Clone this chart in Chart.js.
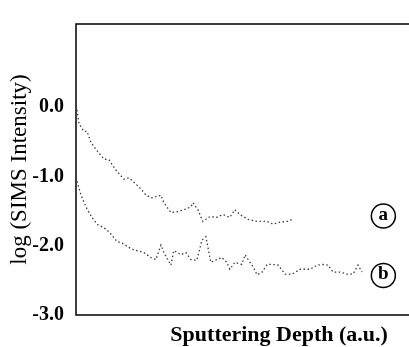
<!DOCTYPE html>
<html lang="en">
<head>
  <meta charset="UTF-8">
  <title>SIMS depth profile</title>
  <style>
    body { margin: 0; background: #fff; }
    #wrap { width: 409px; height: 347px; }
  </style>
</head>
<body>
  <div id="wrap">
    <canvas id="sims" width="409" height="347"></canvas>
  </div>

  <script src="https://cdn.jsdelivr.net/npm/chart.js"></script>
  <script>
    // curve (a): depth (a.u., 0-100 across the frame) and log intensity
    const aDepth = [0.3, 0.9, 2.4, 3.3, 4.5, 6.0, 8.4, 9.9, 12.0, 14.4, 15.9, 18.0, 19.5, 21.0, 22.8, 25.5, 26.4, 28.5, 30.3, 32.4, 34.5, 35.1, 36.6, 38.1, 40.2, 42.3, 44.1, 46.2, 47.7, 49.2, 51.7, 54.4, 57.4, 59.2, 61.3, 63.4, 64.9];
    const aLog = [-0.04, -0.24, -0.35, -0.35, -0.51, -0.61, -0.75, -0.76, -0.91, -1.04, -1.02, -1.11, -1.18, -1.27, -1.31, -1.27, -1.38, -1.52, -1.51, -1.48, -1.44, -1.38, -1.48, -1.65, -1.58, -1.59, -1.55, -1.59, -1.48, -1.55, -1.62, -1.65, -1.65, -1.69, -1.66, -1.65, -1.62];

    // curve (b)
    const bDepth = [0.3, 1.5, 3.0, 3.9, 4.8, 6.3, 7.5, 9.0, 10.5, 12.3, 13.8, 15.3, 16.8, 18.3, 20.4, 22.5, 24.0, 25.5, 26.4, 28.5, 29.4, 31.5, 33.0, 34.5, 36.3, 37.8, 39.0, 40.5, 42.3, 43.8, 45.3, 46.2, 47.7, 49.8, 50.8, 51.7, 53.2, 54.4, 55.9, 57.4, 58.9, 60.7, 62.8, 64.9, 67.3, 70.3, 72.4, 74.2, 75.7, 77.2, 79.3, 81.4, 83.2, 84.7, 85.9];
    const bLog = [-1.07, -1.27, -1.44, -1.52, -1.59, -1.69, -1.72, -1.76, -1.83, -1.94, -1.96, -2.01, -2.05, -2.07, -2.10, -2.17, -2.20, -1.99, -2.10, -2.28, -2.07, -2.13, -2.10, -2.20, -2.21, -1.92, -1.87, -2.24, -2.20, -2.17, -2.24, -2.34, -2.24, -2.27, -2.13, -2.20, -2.31, -2.42, -2.38, -2.27, -2.27, -2.28, -2.41, -2.41, -2.34, -2.34, -2.28, -2.27, -2.28, -2.38, -2.38, -2.41, -2.41, -2.28, -2.38];

    // circled curve labels
    const tagNames = ['a', 'b'];
    const tagDepth = [92.3, 92.3];
    const tagLog = [-1.57, -2.43];

    const yTicks = [-3, -2, -1, 0];
    const xTitle = 'Sputtering Depth (a.u.)';
    const yTitle = 'log (SIMS Intensity)';

    const serif = "'Liberation Serif', 'DejaVu Serif', serif";

    function pts(xs, ys) {
      return xs.map((x, i) => ({ x: x, y: ys[i] }));
    }

    // frame on left, top and bottom (no right edge visible), plus x title
    const framePlugin = {
      id: 'frame',
      beforeDatasetsDraw(chart) {
        const { ctx, chartArea: c } = chart;
        ctx.save();
        ctx.strokeStyle = '#000';
        ctx.lineWidth = 1.5;
        ctx.beginPath();
        ctx.moveTo(c.right, c.top);
        ctx.lineTo(c.left, c.top);
        ctx.lineTo(c.left, c.bottom);
        ctx.lineTo(c.right, c.bottom);
        ctx.stroke();
        ctx.restore();
      },
      afterDraw(chart) {
        const { ctx, chartArea: c } = chart;
        // the scanned title is a little wide, so stretch it sideways
        ctx.save();
        ctx.translate(c.left + (c.right - c.left) * 0.61, 341);
        ctx.scale(1.1, 1);
        ctx.fillStyle = '#000';
        ctx.font = 'bold 20px ' + serif;
        ctx.textAlign = 'center';
        ctx.textBaseline = 'alphabetic';
        ctx.fillText(xTitle, 0, 0);
        ctx.restore();
      }
    };

    // letters inside the circles
    const tagPlugin = {
      id: 'tags',
      afterDatasetsDraw(chart) {
        const meta = chart.getDatasetMeta(2);
        const ctx = chart.ctx;
        ctx.save();
        ctx.fillStyle = '#000';
        ctx.font = 'bold 19px ' + serif;
        ctx.textAlign = 'center';
        ctx.textBaseline = 'middle';
        meta.data.forEach((el, i) => {
          ctx.fillText(tagNames[i], el.x, el.y - 1);
        });
        ctx.restore();
      }
    };

    const ctx = document.getElementById('sims').getContext('2d');
    new Chart(ctx, {
      type: 'scatter',
      data: {
        datasets: [
          {
            label: 'a',
            data: pts(aDepth, aLog),
            showLine: true,
            borderColor: '#3a3a3a',
            borderWidth: 1.3,
            borderDash: [1.5, 2.5],
            pointRadius: 0
          },
          {
            label: 'b',
            data: pts(bDepth, bLog),
            showLine: true,
            borderColor: '#3a3a3a',
            borderWidth: 1.3,
            borderDash: [1.5, 2.5],
            pointRadius: 0
          },
          {
            label: 'tags',
            data: pts(tagDepth, tagLog),
            showLine: false,
            pointRadius: 12,
            pointBackgroundColor: '#fff',
            pointBorderColor: '#000',
            pointBorderWidth: 1.5
          }
        ]
      },
      options: {
        responsive: false,
        animation: false,
        layout: { autoPadding: false, padding: { top: 11, right: 0, left: 0, bottom: 0 } },
        plugins: {
          legend: { display: false },
          tooltip: { enabled: false }
        },
        scales: {
          x: {
            type: 'linear',
            min: 0,
            max: 100,
            grid: { display: false },
            border: { display: false },
            ticks: { display: false },
            afterFit(s) { s.height = 32; }
          },
          y: {
            min: -3,
            max: 1.2,
            grid: { display: false, drawTicks: false },
            border: { display: false },
            afterBuildTicks(s) {
              s.ticks = yTicks.map(v => ({ value: v }));
            },
            ticks: {
              color: '#000',
              padding: 12,
              font: { family: serif, size: 20, weight: 'bold' },
              callback: v => v.toFixed(1)
            },
            title: {
              display: true,
              text: yTitle,
              color: '#000',
              padding: { top: 6, bottom: 0 },
              font: { family: serif, size: 23, lineHeight: 1.2 }
            },
            afterFit(s) { s.width = 76; }
          }
        }
      },
      plugins: [framePlugin, tagPlugin]
    });
  </script>
</body>
</html>
